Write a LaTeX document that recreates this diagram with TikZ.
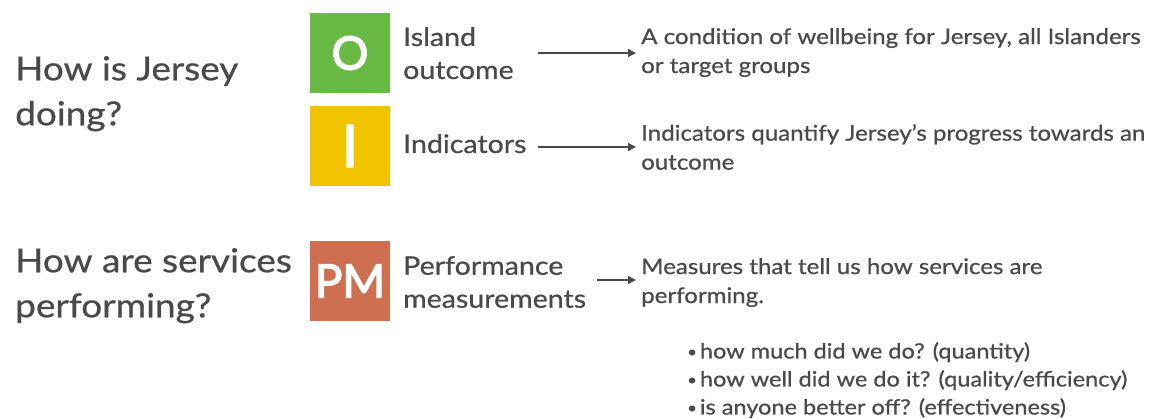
\documentclass[tikz,border=0pt]{standalone}
\usepackage{fontspec}
\setmainfont{Lato}[FakeStretch=1.12,FakeBold=0.7]
\newfontfamily\boxfont{Lato}[FakeBold=3]
\usetikzlibrary{arrows.meta}
\definecolor{txt}{HTML}{4A4A4A}
\definecolor{og}{HTML}{69BA45}
\definecolor{oy}{HTML}{F2C400}
\definecolor{opm}{HTML}{CE6F4F}
\newcommand{\mybul}{{\fontsize{15}{15}\selectfont\raisebox{1.5pt}{•}}\hspace{3pt}}
\begin{document}
\begin{tikzpicture}[x=1pt,y=-1pt,
  sq/.style={minimum width=80pt,minimum height=80pt,inner sep=0pt,text=white},
  head/.style={anchor=north west,align=left,inner sep=0pt,text=txt,font={\fontsize{33}{45}\selectfont}},
  lab/.style={anchor=north west,align=left,inner sep=0pt,text=txt,font={\fontsize{25.5}{33}\selectfont}},
  desc/.style={anchor=north west,align=left,inner sep=0pt,text=txt,font={\fontsize{21.5}{29}\selectfont}},
  arr/.style={draw=txt,line width=1.5pt,-{Triangle[length=8pt,width=8pt]}}]
\useasboundingbox (0,0) rectangle (1162,419);
\node[head] (q1) at (15,56) {How is Jersey\\doing?};
\node[head] (q2) at (15,248) {How are services\\performing?};
\node[sq,fill=og,font={\boxfont\fontsize{46}{46}\selectfont}] (bo) at (350,53) {O};
\node[sq,fill=oy,font={\boxfont\fontsize{58}{58}\selectfont}] (bi) at (350,146) {I};
\node[sq,fill=opm,font={\boxfont\fontsize{46}{46}\selectfont}] (bpm) at (350,281) {PM};
\node[lab] (lo) at (403,27) {Island\\outcome};
\node[lab] (li) at (403,134) {Indicators};
\node[lab] (lpm) at (403,256) {Performance\\measurements};
\node[desc] (d1) at (641,28) {A condition of wellbeing for Jersey, all Islanders\\or target groups};
\node[desc] (d2) at (641,124) {Indicators quantify Jersey’s progress towards an\\outcome};
\node[desc] (d3) at (641,258) {Measures that tell us how services are\\performing.};
\node[desc,font={\fontsize{21}{28}\selectfont}] (d4) at (687,342) {\mybul how much did we do? (quantity)\\\mybul how well did we do it? (quality/efficiency)\\\mybul is anyone better off? (effectiveness)};
\coordinate (a1s) at (538,53); \coordinate (a1e) at (636,53);
\coordinate (a2s) at (538,147); \coordinate (a2e) at (636,147);
\coordinate (a3s) at (597,280); \coordinate (a3e) at (636,280);
\draw[arr] (a1s) -- (a1e);
\draw[arr] (a2s) -- (a2e);
\draw[arr] (a3s) -- (a3e);
\end{tikzpicture}
\end{document}
